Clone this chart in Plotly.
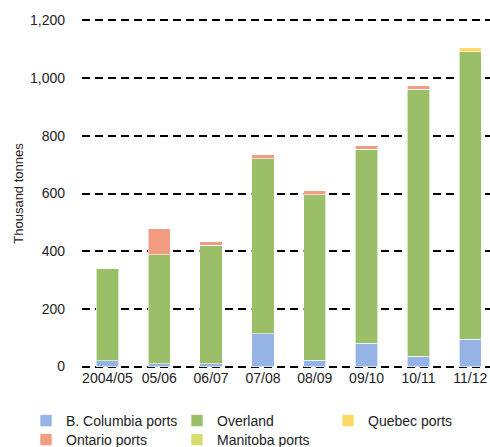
import plotly.graph_objects as go

# Crop years
years = ["2004/05", "05/06", "06/07", "07/08", "08/09", "09/10", "10/11", "11/12"]

# Shipments by route, thousand tonnes
bc_ports = [21, 10, 10, 113, 22, 81, 35, 95]
overland = [320, 377, 411, 607, 574, 672, 926, 997]
quebec_ports = [0, 0, 0, 0, 0, 0, 0, 13]
ontario_ports = [0, 91, 11, 14, 13, 13, 13, 0]
manitoba_ports = [0, 0, 0, 0, 0, 0, 0, 0]

y_ticks = [0, 200, 400, 600, 800, 1000, 1200]
y_tick_labels = ["0", "200", "400", "600", "800", "1,000", "1,200"]

# name, values, colour, legend slot
series = [
    ("B. Columbia ports", bc_ports, "#95B3E5", "legend"),
    ("Overland", overland, "#9BBF68", "legend2"),
    ("Quebec ports", quebec_ports, "#FFD966", "legend3"),
    ("Ontario ports", ontario_ports, "#F29C82", "legend4"),
    ("Manitoba ports", manitoba_ports, "#D5DC70", "legend5"),
]

fig = go.Figure()
for name, vals, color, leg in series:
    fig.add_trace(go.Bar(
        x=years, y=vals, name=name, legend=leg,
        marker=dict(color=color, line=dict(color="rgba(255,255,255,0.6)", width=1)),
    ))

font = "Liberation Sans"
W, H = 490, 447


def legend_at(px, py):
    # one horizontal legend entry anchored at a pixel position of the page
    return dict(
        orientation="h",
        xref="container", yref="container",
        x=px / W, y=1 - py / H, xanchor="left", yanchor="middle",
        font=dict(size=14, color="#222222"),
        bgcolor="rgba(0,0,0,0)",
        itemclick=False, itemdoubleclick=False,
    )


fig.update_layout(
    barmode="stack",
    bargap=0.57,
    width=W, height=H,
    margin=dict(l=82, r=0, t=19, b=79, autoexpand=False),
    plot_bgcolor="white", paper_bgcolor="white",
    font=dict(family=font, size=14, color="#222222"),
    showlegend=True,
    legend=legend_at(26, 421),
    legend2=legend_at(177, 421),
    legend3=legend_at(328, 421),
    legend4=legend_at(26, 440),
    legend5=legend_at(177, 440),
)
fig.update_xaxes(
    range=[-0.49, 7.38],
    showgrid=False, showline=False, ticks="",
    tickfont=dict(size=14),
)
fig.update_yaxes(
    range=[-5, 1205],
    tickvals=y_ticks, ticktext=y_tick_labels,
    showgrid=True, gridcolor="black", gridwidth=2, griddash="8px,5px",
    zeroline=False, showline=False, ticks="",
    ticklabelstandoff=16,
    title=dict(text="Thousand tonnes", font=dict(size=13), standoff=3),
)

fig.write_html("out.html")
